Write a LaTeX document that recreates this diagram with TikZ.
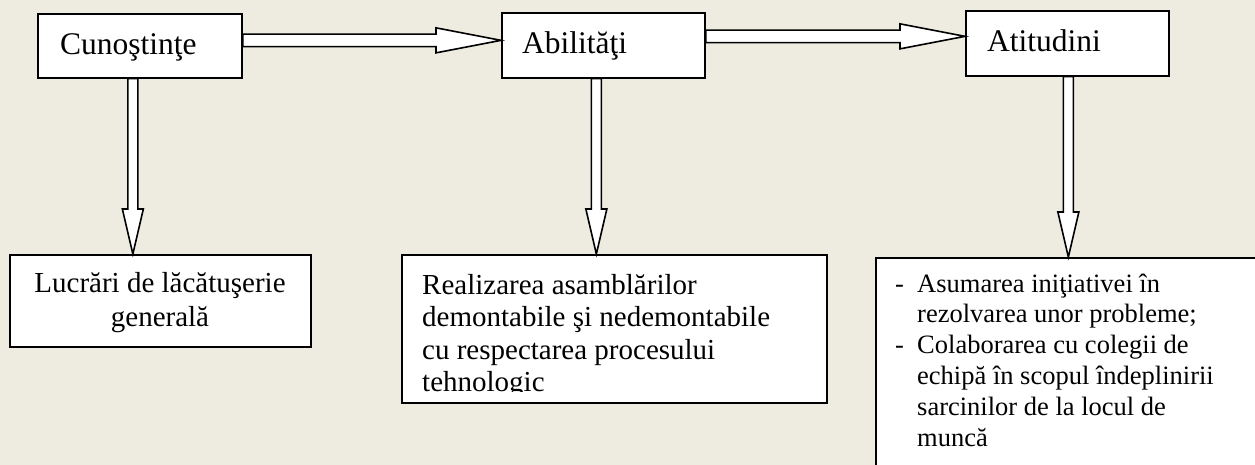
\documentclass[tikz,border=0pt]{standalone}
\usepackage{fontspec}
\setmainfont{Liberation Serif}
\usetikzlibrary{calc}
\definecolor{paper}{HTML}{EEEBE0}

\tikzset{
  box/.style={draw, fill=white, line width=1.7pt, anchor=north west, inner sep=0pt},
  big/.style={font=\fontsize{31.5}{36}\selectfont, anchor=base west, inner sep=0pt},
  mid/.style={font=\fontsize{29}{33}\selectfont, inner sep=0pt},
  small/.style={font=\fontsize{26.5}{30}\selectfont, anchor=base west, inner sep=0pt},
  harrow/.style={draw, fill=white, line width=1.6pt, to path={
    let \p1=(\tikztostart), \p2=(\tikztotarget) in
    (\x1,\y1+6.25pt) -- (\x2-65pt,\y1+6.25pt) -- (\x2-65pt,\y1+12.5pt) -- (\x2,\y1)
    -- (\x2-65pt,\y1-12.5pt) -- (\x2-65pt,\y1-6.25pt) -- (\x1,\y1-6.25pt) -- cycle}},
  varrow/.style={draw, fill=white, line width=1.6pt, to path={
    let \p1=(\tikztostart), \p2=(\tikztotarget) in
    (\x1-5pt,\y1) -- (\x1-5pt,\y2+45pt) -- (\x1-10.5pt,\y2+45pt) -- (\x1,\y2)
    -- (\x1+10.5pt,\y2+45pt) -- (\x1+5pt,\y2+45pt) -- (\x1+5pt,\y1) -- cycle}}
}

\begin{document}
\begin{tikzpicture}[x=1pt, y=-1pt]
  \useasboundingbox (0,0) rectangle (1255,465);
  \fill[paper] (0,0) rectangle (1255,465);

  % top row
  \node[box, minimum width=204, minimum height=64] (cun) at (37,13) {};
  \node[box, minimum width=203, minimum height=65] (abi) at (501,12) {};
  \node[box, minimum width=203, minimum height=65] (ati) at (965,10) {};
  \node[big] (cuntext) at (60,54.5) {Cunoştinţe};
  \node[big] (abitext) at (522,54) {Abilităţi};
  \node[big] (atitext) at (987,52) {Atitudini};

  % bottom row
  \node[box, minimum width=301, minimum height=92] (lucr) at (9,254) {};
  \node[box, minimum width=425, minimum height=148] (real) at (401,254) {};
  \node[box, minimum width=420, minimum height=240] (asum) at (875,257) {};

  \node[mid, anchor=base] (lucr-1) at (160,292) {Lucrări de lăcătuşerie};
  \node[mid, anchor=base] (lucr-2) at (160,326) {generală};

  \begin{scope}
    \clip (401,254) rectangle (826,391.5);
    \foreach \t [count=\i] in {Realizarea asamblărilor, demontabile şi nedemontabile,
        cu respectarea procesului, tehnologic}
      \node[mid, anchor=base west] (real-\i) at (422,{261.5+32.5*\i}) {\t};
  \end{scope}

  \node[small] (dash-1) at (895,292) {-};
  \node[small] (dash-2) at (895,353.6) {-};
  \foreach \t [count=\i] in {Asumarea iniţiativei în, rezolvarea unor probleme;,
      Colaborarea cu colegii de, echipă în scopul îndeplinirii,
      sarcinilor de la locul de, muncă}
    \node[small] (asum-\i) at (917,{261.2+30.8*\i}) {\t};

  % hollow arrows
  \draw[harrow] ([yshift=5.5pt]cun.east) to (abi.west);
  \draw[harrow] ([yshift=9pt]abi.east) to (ati.west);
  \draw[varrow] ([xshift=-7pt]cun.south) to (lucr.north);
  \draw[varrow] ([xshift=-7pt]abi.south) to (real.north);
  \draw[varrow] ([xshift=1pt]ati.south) to (asum.north);
\end{tikzpicture}
\end{document}
